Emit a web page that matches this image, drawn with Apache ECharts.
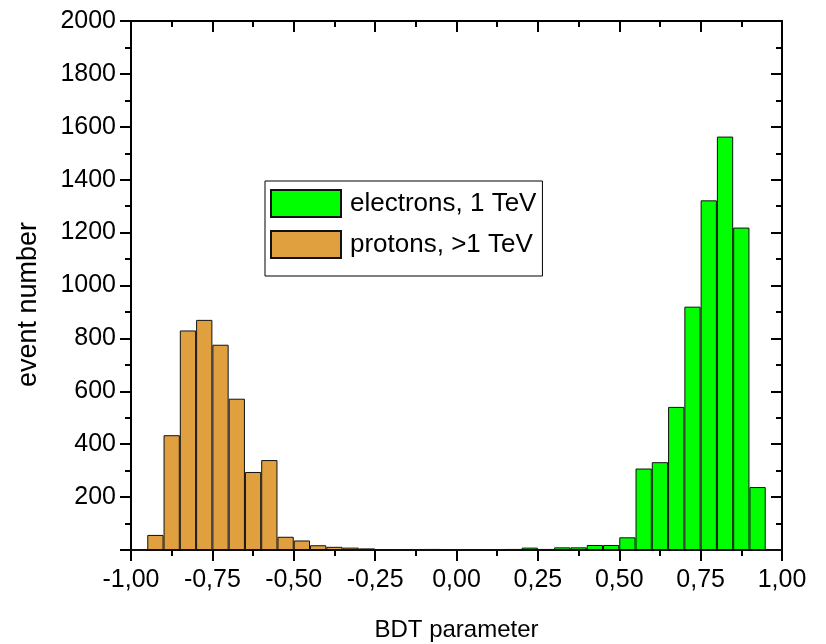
<!DOCTYPE html>
<html lang="en">
<head>
<meta charset="UTF-8">
<title>BDT parameter</title>
<script src="https://cdn.jsdelivr.net/npm/echarts@6/dist/echarts.min.js"></script>
<style>
    html, body { margin: 0; padding: 0; background: #fff; }
    #container { width: 826px; height: 644px; }
</style>
</head>
<body>
<div id="container"></div>
<script type="text/javascript">
    // bin edges: 40 bins of width 0.05 from -1 to 1 (labels are bin lower edges)
    var binStarts = [];
    for (var i = 0; i < 40; i++) binStarts.push((-1 + i * 0.05).toFixed(2));

    // protons, >1 TeV
    var protons = [
        0, 57, 434, 830, 870, 776, 572, 295, 340, 50,
        36, 18, 12, 9, 6, 3, 2, 2, 4, 2,
        1, 1, 2, 0, 0, 0, 0, 0, 0, 0,
        0, 0, 0, 0, 0, 0, 0, 0, 0, 0
    ];
    // electrons, 1 TeV
    var electrons = [
        0, 0, 0, 0, 0, 0, 0, 0, 0, 0,
        0, 0, 0, 0, 0, 0, 0, 0, 0, 0,
        0, 0, 2, 4, 9, 4, 10, 10, 19, 19,
        48, 308, 332, 541, 920, 1322, 1563, 1219, 238, 0
    ];
    var yMax = 2000;

    var font = 'Liberation Sans, Arial, sans-serif';
    var black = '#000';

    function fmt(v) {
        return v.toFixed(2).replace('.', ',');
    }

    var myChart = echarts.init(document.getElementById('container'), null, { renderer: 'canvas' });

    var frameX = {
        type: 'value', min: -1, max: 1, interval: 0.25,
        axisLine: { show: true, onZero: false, lineStyle: { color: black, width: 2 } },
        splitLine: { show: false }
    };
    var frameY = {
        type: 'value', min: 0, max: yMax, interval: 200,
        axisLine: { show: true, onZero: false, lineStyle: { color: black, width: 2 } },
        splitLine: { show: false }
    };

    var option = {
        animation: false,
        backgroundColor: '#fff',
        grid: { left: 131, right: 44, top: 21, bottom: 94, containLabel: false, outerBoundsMode: 'none' },
        legend: {
            orient: 'vertical',
            left: 265, top: 181,
            itemWidth: 70, itemHeight: 27, itemGap: 12,
            padding: [8, 6, 17, 5],
            borderColor: black, borderWidth: 1,
            backgroundColor: '#fff',
            icon: 'rect',
            textStyle: { fontFamily: font, fontSize: 26, color: black, padding: [0, 0, 0, 4] },
            data: ['electrons, 1 TeV', 'protons, >1 TeV']
        },
        xAxis: [
            {
                type: 'category', data: binStarts, boundaryGap: true,
                show: false
            },
            Object.assign({}, frameX, {
                position: 'bottom',
                name: 'BDT parameter', nameLocation: 'middle', nameGap: 68,
                nameTextStyle: { fontFamily: font, fontSize: 24, color: black },
                axisTick: { show: true, inside: false, length: 11, lineStyle: { color: black, width: 2 } },
                minorTick: { show: true, splitNumber: 2, length: 6, lineStyle: { color: black, width: 2 } },
                axisLabel: { margin: 18, fontFamily: font, fontSize: 25, color: black, formatter: fmt }
            }),
            Object.assign({}, frameX, {
                position: 'top',
                axisTick: { show: true, inside: true, length: 11, lineStyle: { color: black, width: 2 } },
                minorTick: { show: true, splitNumber: 2, length: 6, lineStyle: { color: black, width: 2 } },
                axisLabel: { show: false }
            })
        ],
        yAxis: [
            Object.assign({}, frameY, {
                position: 'left',
                name: 'event number', nameLocation: 'middle', nameGap: 89, nameRotate: 90,
                nameTextStyle: { fontFamily: font, fontSize: 27, color: black, padding: [0, 38, 0, 0] },
                axisTick: { show: true, inside: false, length: 11, lineStyle: { color: black, width: 2 } },
                minorTick: { show: true, splitNumber: 2, length: 6, lineStyle: { color: black, width: 2 } },
                axisLabel: {
                    margin: 15, fontFamily: font, fontSize: 25, color: black,
                    formatter: function (v) { return v === 0 ? '' : String(v); }
                }
            }),
            Object.assign({}, frameY, {
                position: 'right',
                axisTick: { show: true, inside: true, length: 11, lineStyle: { color: black, width: 2 } },
                minorTick: { show: true, splitNumber: 2, length: 6, lineStyle: { color: black, width: 2 } },
                axisLabel: { show: false }
            })
        ],
        series: [
            {
                name: 'electrons, 1 TeV',
                type: 'bar',
                xAxisIndex: 0, yAxisIndex: 0,
                data: electrons,
                barGap: '-100%', barCategoryGap: 0,
                itemStyle: { color: '#00ff00', borderColor: '#111', borderWidth: 1 }
            },
            {
                name: 'protons, >1 TeV',
                type: 'bar',
                xAxisIndex: 0, yAxisIndex: 0,
                data: protons,
                barGap: '-100%', barCategoryGap: 0,
                itemStyle: { color: '#e0a040', borderColor: '#111', borderWidth: 1 }
            }
        ]
    };
    myChart.setOption(option);
</script>
</body>
</html>
